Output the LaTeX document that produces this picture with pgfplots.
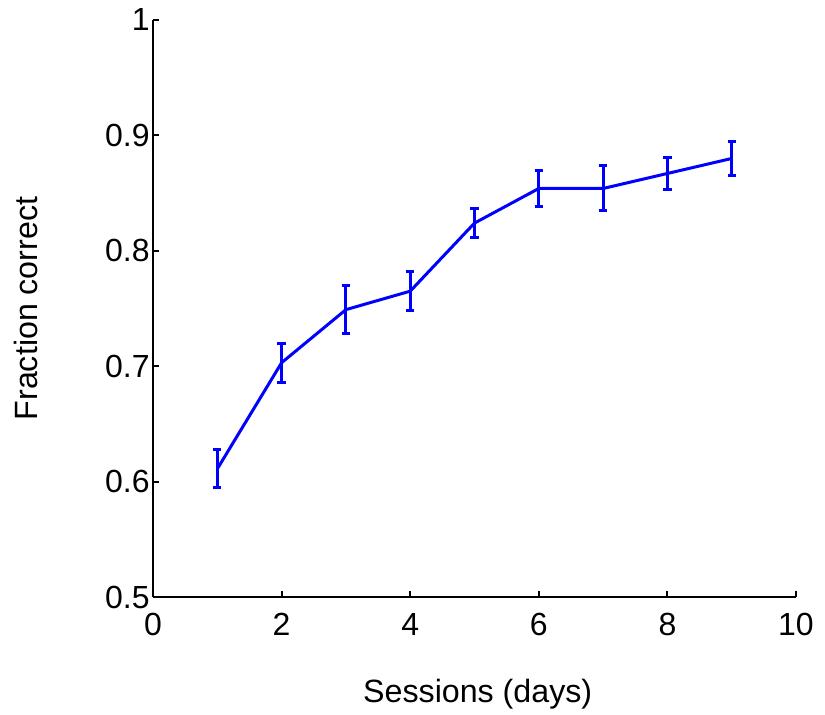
\documentclass[border=0pt]{standalone}
\usepackage{fontspec}
\setmainfont{Liberation Sans}
\usepackage{pgfplots}
\pgfplotsset{compat=1.18}
\definecolor{mblue}{RGB}{0,0,255}
\begin{document}
\begin{tikzpicture}
\useasboundingbox (-76.5pt,-59pt) rectangle (336pt,298.5pt);
\begin{axis}[
  scale only axis,
  width=321.5pt, height=288.5pt,
  xmin=0, xmax=10, ymin=0.5, ymax=1,
  axis x line*=bottom, axis y line*=left,
  axis line style={-, line width=1pt, black},
  every tick/.style={black, line width=1pt},
  major tick length=3pt,
  tick align=inside,
  xtick={0,2,4,6,8,10},
  xticklabels={0,2,4,6,8,10},
  ytick={0.5,0.6,0.7,0.8,0.9,1},
  yticklabels={0.5,0.6,0.7,0.8,0.9,1},
  /pgf/number format/assume math mode=true,
  tick label style={font=\fontsize{16}{19}\selectfont},
  xticklabel style={yshift=-4.5pt},
  yticklabel style={inner sep=1.5pt},
  clip=false,
]
\addplot[color=mblue, line width=1.5pt, mark=none,
  error bars/.cd, y dir=both, y explicit,
  error bar style={line width=1.5pt, mblue},
  error mark options={rotate=90, mark size=2.1pt, line width=1.5pt, mblue}]
  coordinates {
  (1,0.611) +- (0,0.0165)
  (2,0.703) +- (0,0.017)
  (3,0.749) +- (0,0.021)
  (4,0.765) +- (0,0.017)
  (5,0.824) +- (0,0.0127)
  (6,0.854) +- (0,0.016)
  (7,0.854) +- (0,0.0195)
  (8,0.867) +- (0,0.0137)
  (9,0.880) +- (0,0.015)
  };
\node[anchor=base, font=\fontsize{16.1}{19}\selectfont] at (axis description cs:0.505,-0.182) {Sessions (days)};
\node[anchor=base, rotate=90, font=\fontsize{16.1}{19}\selectfont] at (axis description cs:-0.180,0.5) {Fraction correct};
\end{axis}
\end{tikzpicture}
\end{document}
